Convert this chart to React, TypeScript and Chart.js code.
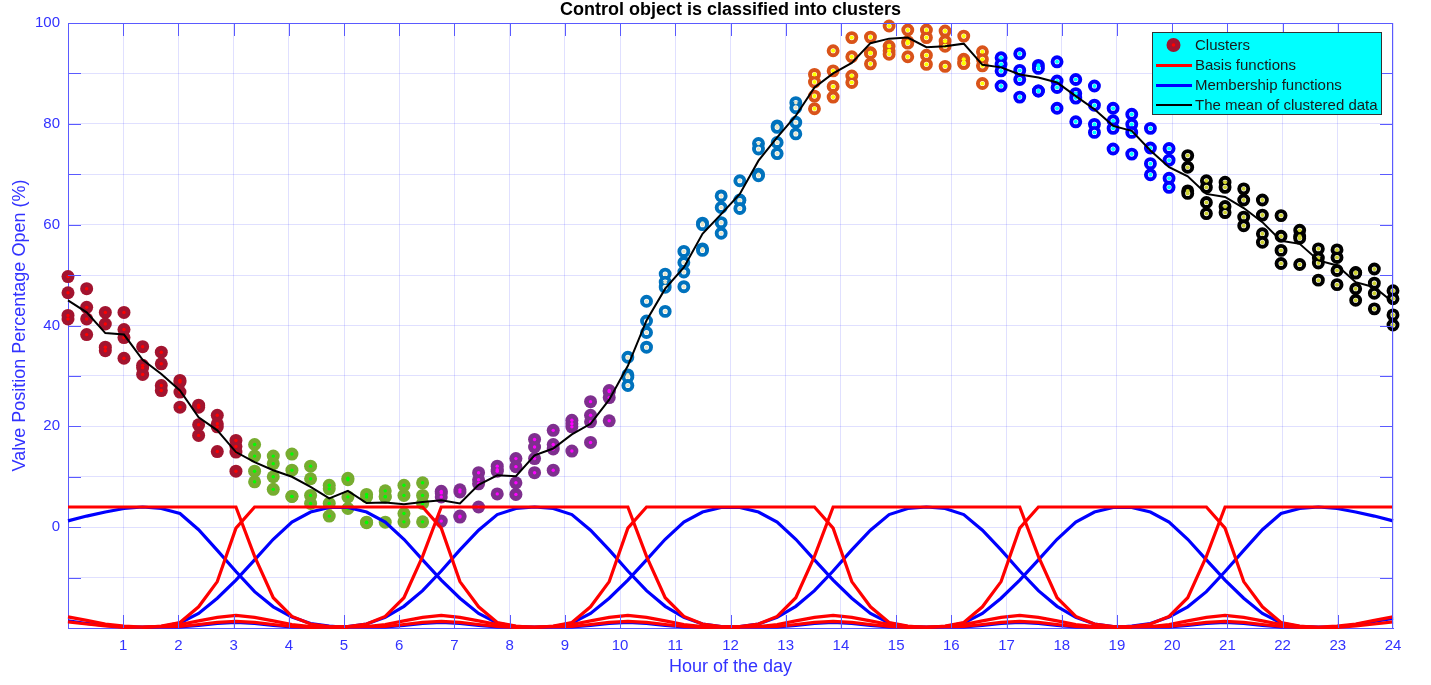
import React, { useEffect, useRef } from 'react';
import { Chart, registerables } from 'chart.js';

Chart.register(...registerables);

// ---------- data ----------
// 72 sample instants over the day (hours)
const hours = [
  0, 0.338, 0.676, 1.014, 1.352, 1.690, 2.028, 2.366, 2.704, 3.042,
  3.380, 3.718, 4.056, 4.394, 4.732, 5.070, 5.408, 5.746, 6.085, 6.423,
  6.761, 7.099, 7.437, 7.775, 8.113, 8.451, 8.789, 9.127, 9.465, 9.803,
  10.141, 10.479, 10.817, 11.155, 11.493, 11.831, 12.169, 12.507, 12.845, 13.183,
  13.521, 13.859, 14.197, 14.535, 14.873, 15.211, 15.549, 15.887, 16.225, 16.563,
  16.901, 17.239, 17.577, 17.915, 18.254, 18.592, 18.930, 19.268, 19.606, 19.944,
  20.282, 20.620, 20.958, 21.296, 21.634, 21.972, 22.310, 22.648, 22.986, 23.324,
  23.662, 24,
];

const xTickLabels = ['', '1', '2', '3', '4', '5', '6', '7', '8', '9', '10', '11', '12', '13', '14', '15', '16', '17', '18', '19', '20', '21', '22', '23', '24'];
const yLabelValues = [0, 20, 40, 60, 80, 100];

// cluster samples: each row = one sample instant (starting at the given index)
const cluster1Start = 0;
const cluster1 = [
  [49.7, 46.5, 42.0, 41.3], [47.3, 43.6, 41.3, 38.2], [42.6, 40.3, 35.7, 35.0], [42.6, 39.2, 37.6, 33.5],
  [35.8, 32.1, 31.6, 30.3], [34.7, 32.4, 28.1, 27.1], [29.1, 28.8, 26.8, 23.8], [24.2, 23.8, 20.3, 18.2],
  [22.2, 20.5, 19.9, 15.0], [17.2, 16.0, 14.9, 11.1],
];
const cluster2Start = 10;
const cluster2 = [
  [16.4, 14.1, 11.1, 9.0], [14.1, 12.6, 10.0, 7.5], [14.5, 11.3, 6.1, 6.1], [12.1, 9.6, 6.3, 4.7],
  [8.3, 7.6, 4.7, 2.2], [9.7, 9.4, 6.0, 3.7], [6.5, 6.0, 1.0, 0.9], [7.2, 6.1, 6.0, 1.0],
  [8.3, 6.3, 2.7, 1.05], [8.8, 6.3, 4.7, 1.05],
];
const cluster3Start = 20;
const cluster3 = [
  [7.1, 6.8, 6.0, 1.2], [7.4, 7.0, 2.2, 2.0], [10.8, 9.4, 8.6, 4.0], [12.1, 11.4, 11.1, 6.6],
  [13.6, 12.0, 8.8, 6.5], [17.4, 15.9, 13.6, 10.8], [19.2, 16.4, 15.5, 11.3], [21.2, 20.5, 19.9, 15.1],
  [24.9, 22.2, 20.9, 16.8], [27.1, 26.9, 25.7, 21.1],
];
const cluster4Start = 30;
const cluster4 = [
  [33.7, 30.2, 29.8, 28.1], [44.8, 40.9, 38.6, 35.7], [50.2, 48.6, 47.6, 42.8], [54.7, 52.5, 50.6, 47.7],
  [60.3, 60.0, 55.2, 54.9], [65.7, 63.4, 60.4, 58.3], [68.7, 64.9, 64.8, 63.2], [76.1, 75.0, 70.0, 69.7],
  [79.6, 79.3, 76.3, 74.1], [84.2, 83.2, 80.3, 78.0],
];
const cluster5Start = 40;
const cluster5 = [
  [89.8, 88.3, 85.5, 83.0], [94.5, 90.5, 87.4, 85.3], [97.1, 93.3, 89.5, 88.2], [97.2, 94.1, 94.0, 91.9],
  [99.4, 95.4, 94.5, 93.8], [98.6, 96.3, 96.0, 93.3], [98.6, 97.1, 93.6, 91.8], [98.4, 96.4, 95.4, 91.4],
  [97.4, 92.8, 92.0, 92.0], [94.3, 92.8, 91.5, 88.0],
];
const cluster6Start = 50;
const cluster6 = [
  [93.1, 91.8, 90.5, 87.5], [93.9, 90.6, 88.8, 85.3], [91.6, 91.0, 86.5, 86.5], [92.3, 88.5, 87.2, 83.1],
  [88.8, 86.0, 85.1, 80.4], [87.5, 83.7, 79.9, 78.3], [83.1, 80.6, 79.1, 75.0], [81.9, 79.9, 78.3, 74.0],
  [79.1, 75.2, 72.1, 69.9], [75.1, 72.8, 69.2, 67.4],
];
const cluster7Start = 60;
const cluster7 = [
  [73.7, 71.4, 66.7, 66.2], [68.7, 67.4, 64.4, 62.2], [68.4, 67.4, 63.6, 62.4], [67.1, 64.9, 61.5, 59.8],
  [64.9, 61.9, 58.2, 56.5], [61.8, 57.7, 54.9, 52.3], [58.9, 57.7, 57.3, 52.1], [55.2, 53.4, 52.4, 49.0],
  [55.0, 53.5, 50.9, 48.1], [50.5, 50.4, 47.3, 45.0], [51.2, 48.4, 46.4, 43.3], [46.9, 45.3, 42.1, 40.1],
];

// mean of clustered data, one value per sample instant
const meanValues = [
  45.0, 42.6, 38.5, 38.2, 33.2, 30.4, 27.1, 21.8, 19.2, 14.9,
  12.9, 11.3, 10.0, 8.0, 5.7, 7.2, 4.8, 4.9, 4.55, 5.0,
  5.35, 4.7, 8.4, 10.3, 10.1, 14.25, 15.6, 18.4, 20.5, 25.3,
  32.0, 41.0, 47.3, 51.5, 58.2, 62.1, 66.1, 72.7, 77.3, 81.6,
  87.2, 90.0, 92.1, 96.0, 96.9, 97.1, 95.2, 95.4, 95.9, 91.7,
  91.2, 89.8, 89.2, 88.2, 85.5, 82.9, 79.6, 78.6, 74.7, 71.4,
  69.6, 66.1, 65.5, 63.3, 60.5, 56.8, 56.2, 52.9, 51.9, 48.6,
  47.6, 44.6,
];

// basis functions: [sample index, value] vertices
const basis1 = [[0, 4], [9, 4], [10, -5.8], [11, -14.0], [12, -17.7], [13, -19.2], [14, -19.7], [15, -19.9]];
const basis2 = [[4, -19.9], [5, -19.6], [6, -18.9], [7, -15.8], [8, -10.8], [9, -0.2], [10, 4], [19, 4], [20, -0.2], [21, -10.8], [22, -15.8], [23, -18.9], [24, -19.6], [25, -19.9]];
const basis3 = [[14, -19.9], [15, -19.7], [16, -19.2], [17, -17.7], [18, -14.0], [19, -5.8], [20, 4], [30, 4], [31, -5.8], [32, -14.0], [33, -17.7], [34, -19.2], [35, -19.7], [36, -19.9]];
const basis4 = [[25, -19.9], [26, -19.6], [27, -18.9], [28, -15.8], [29, -10.8], [30, -0.2], [31, 4], [40, 4], [41, -0.2], [42, -10.8], [43, -15.8], [44, -18.9], [45, -19.6], [46, -19.9]];
const basis5 = [[35, -19.9], [36, -19.7], [37, -19.2], [38, -17.7], [39, -14.0], [40, -5.8], [41, 4], [51, 4], [52, -5.8], [53, -14.0], [54, -17.7], [55, -19.2], [56, -19.7], [57, -19.9]];
const basis6 = [[46, -19.9], [47, -19.6], [48, -18.9], [49, -15.8], [50, -10.8], [51, -0.2], [52, 4], [61, 4], [62, -0.2], [63, -10.8], [64, -15.8], [65, -18.9], [66, -19.6], [67, -19.9]];
const basis7 = [[56, -19.9], [57, -19.7], [58, -19.2], [59, -17.7], [60, -14.0], [61, -5.8], [62, 4], [71, 4]];
const basisLow1 = [
  [0, -17.8], [1, -18.5], [2, -19.2], [3, -19.6], [4, -19.8], [5, -19.7], [6, -19.3], [7, -18.6], [8, -17.9], [9, -17.5],
  [10, -17.9], [11, -18.6], [12, -19.3], [13, -19.7], [14, -19.8], [16, -19.7], [17, -19.3], [18, -18.6], [19, -17.9], [20, -17.5],
  [21, -17.9], [22, -18.6], [23, -19.3], [24, -19.7], [25, -19.8], [26, -19.7], [27, -19.3], [28, -18.6], [29, -17.9], [30, -17.5],
  [31, -17.9], [32, -18.6], [33, -19.3], [34, -19.7], [35, -19.8], [37, -19.7], [38, -19.3], [39, -18.6], [40, -17.9], [41, -17.5],
  [42, -17.9], [43, -18.6], [44, -19.3], [45, -19.7], [46, -19.8], [47, -19.7], [48, -19.3], [49, -18.6], [50, -17.9], [51, -17.5],
  [52, -17.9], [53, -18.6], [54, -19.3], [55, -19.7], [56, -19.8], [58, -19.7], [59, -19.3], [60, -18.6], [61, -17.9], [62, -17.5],
  [63, -17.9], [64, -18.6], [65, -19.3], [66, -19.7], [67, -19.8], [68, -19.6], [69, -19.2], [70, -18.5], [71, -17.8],
];
const basisLow2 = [
  [0, -18.8], [1, -19.2], [2, -19.6], [3, -19.9], [6, -19.7], [7, -19.3], [8, -18.9], [9, -18.7], [10, -18.9], [11, -19.3],
  [12, -19.7], [13, -19.9], [17, -19.7], [18, -19.3], [19, -18.9], [20, -18.7], [21, -18.9], [22, -19.3], [23, -19.7], [24, -19.9],
  [27, -19.7], [28, -19.3], [29, -18.9], [30, -18.7], [31, -18.9], [32, -19.3], [33, -19.7], [34, -19.9], [38, -19.7], [39, -19.3],
  [40, -18.9], [41, -18.7], [42, -18.9], [43, -19.3], [44, -19.7], [45, -19.9], [48, -19.7], [49, -19.3], [50, -18.9], [51, -18.7],
  [52, -18.9], [53, -19.3], [54, -19.7], [55, -19.9], [59, -19.7], [60, -19.3], [61, -18.9], [62, -18.7], [63, -18.9], [64, -19.3],
  [65, -19.7], [66, -19.9], [68, -19.9], [69, -19.6], [70, -19.2], [71, -18.8],
];

// membership functions: [sample index, value] vertices
const member1 = [[0, 1.25], [1, 2.2], [2, 3.0], [3, 3.7], [4, 4.0], [5, 3.7], [6, 2.7], [7, -0.5], [8, -4.6], [9, -8.8], [10, -12.8], [11, -15.8], [12, -17.8], [13, -19.1], [14, -19.6], [15, -19.9]];
const member2 = [[4, -19.9], [5, -19.7], [6, -19.0], [7, -17.1], [8, -14.1], [9, -10.5], [10, -6.5], [11, -2.4], [12, 1.0], [13, 3.0], [14, 3.9], [15, 3.9], [16, 3.0], [17, 1.0], [18, -2.4], [19, -6.5], [20, -10.5], [21, -14.1], [22, -17.1], [23, -19.0], [24, -19.7], [25, -19.9]];
const member3 = [[14, -19.9], [15, -19.7], [16, -19.2], [17, -17.9], [18, -15.7], [19, -12.6], [20, -8.7], [21, -4.5], [22, -0.6], [23, 2.5], [24, 3.7], [25, 4.0], [26, 3.7], [27, 2.5], [28, -0.6], [29, -4.5], [30, -8.7], [31, -12.6], [32, -15.7], [33, -17.9], [34, -19.2], [35, -19.7], [36, -19.9]];
const member4 = [[25, -19.9], [26, -19.7], [27, -19.0], [28, -17.1], [29, -14.1], [30, -10.5], [31, -6.5], [32, -2.4], [33, 1.0], [34, 3.0], [35, 3.9], [36, 3.9], [37, 3.0], [38, 1.0], [39, -2.4], [40, -6.5], [41, -10.5], [42, -14.1], [43, -17.1], [44, -19.0], [45, -19.7], [46, -19.9]];
const member5 = [[35, -19.9], [36, -19.7], [37, -19.2], [38, -17.9], [39, -15.7], [40, -12.6], [41, -8.7], [42, -4.5], [43, -0.6], [44, 2.5], [45, 3.7], [46, 4.0], [47, 3.7], [48, 2.5], [49, -0.6], [50, -4.5], [51, -8.7], [52, -12.6], [53, -15.7], [54, -17.9], [55, -19.2], [56, -19.7], [57, -19.9]];
const member6 = [[46, -19.9], [47, -19.7], [48, -19.0], [49, -17.1], [50, -14.1], [51, -10.5], [52, -6.5], [53, -2.4], [54, 1.0], [55, 3.0], [56, 3.9], [57, 3.9], [58, 3.0], [59, 1.0], [60, -2.4], [61, -6.5], [62, -10.5], [63, -14.1], [64, -17.1], [65, -19.0], [66, -19.7], [67, -19.9]];
const member7 = [[56, -19.9], [57, -19.6], [58, -19.1], [59, -17.8], [60, -15.8], [61, -12.8], [62, -8.8], [63, -4.6], [64, -0.5], [65, 2.7], [66, 3.7], [67, 4.0], [68, 3.7], [69, 3.0], [70, 2.2], [71, 1.25]];
const memberLow = [
  [0, -18.6], [1, -19.1], [2, -19.5], [3, -19.8], [6, -19.8], [7, -19.5], [8, -19.1], [9, -18.9], [10, -19.1], [11, -19.5],
  [12, -19.8], [17, -19.8], [18, -19.5], [19, -19.1], [20, -18.9], [21, -19.1], [22, -19.5], [23, -19.8], [27, -19.8], [28, -19.5],
  [29, -19.1], [30, -18.9], [31, -19.1], [32, -19.5], [33, -19.8], [38, -19.8], [39, -19.5], [40, -19.1], [41, -18.9], [42, -19.1],
  [43, -19.5], [44, -19.8], [48, -19.8], [49, -19.5], [50, -19.1], [51, -18.9], [52, -19.1], [53, -19.5], [54, -19.8], [59, -19.8],
  [60, -19.5], [61, -19.1], [62, -18.9], [63, -19.1], [64, -19.5], [65, -19.8], [68, -19.8], [69, -19.3], [70, -18.7], [71, -18.1],
];

// ---------- styling ----------
const FONT = "'Liberation Sans', Arial, Helvetica, sans-serif";
const AXIS_BLUE = '#5a5aff';
const TEXT_BLUE = '#3232ff';
const GRID = 'rgba(0,0,255,0.12)';

type Style = { filled: boolean; main: string; dot: string; dotR: number };
const clusterStyles: Style[] = [
  { filled: true, main: '#A2142F', dot: '#FF0000', dotR: 1.7 },
  { filled: true, main: '#77AC30', dot: '#00FF00', dotR: 1.7 },
  { filled: true, main: '#7E2F8E', dot: '#FF00FF', dotR: 1.7 },
  { filled: false, main: '#0072BD', dot: '#E8E6C8', dotR: 1.8 },
  { filled: false, main: '#D95319', dot: '#FFFF00', dotR: 2.1 },
  { filled: false, main: '#0000FF', dot: '#00FFFF', dotR: 2.0 },
  { filled: false, main: '#000000', dot: '#CDD22E', dotR: 2.0 },
];

function toPoints(start: number, rows: number[][]) {
  const pts: { x: number; y: number }[] = [];
  rows.forEach((vals, i) => vals.forEach((v) => pts.push({ x: hours[start + i], y: v })));
  return pts;
}
function toLine(verts: number[][]) {
  return verts.map(([k, v]) => ({ x: hours[k], y: v }));
}

function buildDatasets() {
  const ds: any[] = [];
  ds.push({
    label: 'mean', data: meanValues.map((v, k) => ({ x: hours[k], y: v })), showLine: true,
    borderColor: '#000000', borderWidth: 2, pointRadius: 0, order: 0, clip: false,
  });
  [basis1, basis2, basis3, basis4, basis5, basis6, basis7, basisLow1, basisLow2].forEach((b, i) => {
    ds.push({ label: 'basis' + i, data: toLine(b), showLine: true, borderColor: '#FF0000', borderWidth: 3.2, pointRadius: 0, order: 1, clip: false });
  });
  [member1, member2, member3, member4, member5, member6, member7, memberLow].forEach((m, i) => {
    ds.push({ label: 'member' + i, data: toLine(m), showLine: true, borderColor: '#0000FF', borderWidth: 3.2, pointRadius: 0, order: 2, clip: false });
  });
  const clusters: [number, number[][]][] = [
    [cluster1Start, cluster1], [cluster2Start, cluster2], [cluster3Start, cluster3], [cluster4Start, cluster4],
    [cluster5Start, cluster5], [cluster6Start, cluster6], [cluster7Start, cluster7],
  ];
  clusters.forEach(([s, rows], i) => {
    const st = clusterStyles[i];
    const pts = toPoints(s, rows);
    ds.push({
      label: 'cl' + i, data: pts, showLine: false, order: 4, clip: false,
      pointRadius: st.filled ? 6.5 : 4.5,
      pointBorderWidth: st.filled ? 0 : 3.9,
      pointBackgroundColor: st.filled ? st.main : '#FFFFFF',
      pointBorderColor: st.main,
    });
    ds.push({
      label: 'dot' + i, data: pts, showLine: false, order: 3, clip: false,
      pointRadius: st.dotR, pointBorderWidth: 0,
      pointBackgroundColor: st.dot, pointBorderColor: st.dot,
    });
  });
  return ds;
}

const decorPlugin = {
  id: 'decor',
  afterDraw(chart: any) {
    const { ctx, chartArea: a, scales } = chart;
    const x = scales.x;
    const y = scales.y;
    ctx.save();
    // box (top and right sides)
    ctx.strokeStyle = AXIS_BLUE;
    ctx.lineWidth = 1;
    ctx.beginPath();
    ctx.moveTo(a.left, a.top + 0.5);
    ctx.lineTo(a.right, a.top + 0.5);
    ctx.moveTo(a.right - 0.5, a.top);
    ctx.lineTo(a.right - 0.5, a.bottom);
    ctx.stroke();
    // inward tick marks
    const TL = 13;
    ctx.beginPath();
    x.ticks.forEach((t: any) => {
      if (t.value <= x.min || t.value >= x.max) return;
      const px = Math.round(x.getPixelForValue(t.value)) + 0.5;
      ctx.moveTo(px, a.bottom);
      ctx.lineTo(px, a.bottom - TL);
      ctx.moveTo(px, a.top);
      ctx.lineTo(px, a.top + TL);
    });
    y.ticks.forEach((t: any) => {
      if (t.value <= y.min || t.value >= y.max) return;
      const py = Math.round(y.getPixelForValue(t.value)) + 0.5;
      ctx.moveTo(a.left, py);
      ctx.lineTo(a.left + TL, py);
      ctx.moveTo(a.right, py);
      ctx.lineTo(a.right - TL, py);
    });
    ctx.stroke();

    // title
    ctx.fillStyle = '#000000';
    ctx.font = `bold 18px ${FONT}`;
    ctx.textAlign = 'center';
    ctx.textBaseline = 'middle';
    ctx.fillText('Control object is classified into clusters', (a.left + a.right) / 2, 10);

    // legend
    const lx = 1152, ly = 32, lw = 230, lh = 83;
    ctx.fillStyle = '#00FFFF';
    ctx.fillRect(lx, ly, lw, lh);
    ctx.strokeStyle = '#333333';
    ctx.lineWidth = 1;
    ctx.strokeRect(lx + 0.5, ly + 0.5, lw - 1, lh - 1);
    const rows = [45, 65.5, 85.5, 105];
    // marker
    ctx.fillStyle = clusterStyles[0].main;
    ctx.beginPath();
    ctx.arc(1173.5, rows[0], 7, 0, Math.PI * 2);
    ctx.fill();
    ctx.fillStyle = clusterStyles[0].dot;
    ctx.beginPath();
    ctx.arc(1173.5, rows[0], 1.8, 0, Math.PI * 2);
    ctx.fill();
    const lines: [string, number][] = [['#FF0000', 3], ['#0000FF', 3], ['#000000', 2]];
    lines.forEach(([c, w], i) => {
      ctx.strokeStyle = c;
      ctx.lineWidth = w;
      ctx.beginPath();
      ctx.moveTo(1156, rows[i + 1]);
      ctx.lineTo(1192, rows[i + 1]);
      ctx.stroke();
    });
    ctx.fillStyle = '#1a1a1a';
    ctx.font = `15px ${FONT}`;
    ctx.textAlign = 'left';
    ctx.textBaseline = 'middle';
    ['Clusters', 'Basis functions', 'Membership functions', 'The mean of clustered data'].forEach((t, i) => {
      ctx.fillText(t, 1195, rows[i] + 0.5);
    });
    ctx.restore();
  },
};

export default function App() {
  const ref = useRef<HTMLCanvasElement | null>(null);
  useEffect(() => {
    if (!ref.current) return;
    Chart.defaults.font.family = FONT;
    const chart = new Chart(ref.current, {
      type: 'scatter',
      data: { datasets: buildDatasets() },
      options: {
        responsive: false,
        animation: false,
        events: [],
        layout: { padding: { left: 0, right: 38, top: 23, bottom: 0 } },
        plugins: { legend: { display: false }, title: { display: false }, tooltip: { enabled: false } },
        scales: {
          x: {
            type: 'linear', min: 0, max: 24,
            afterFit: (s: any) => { s.height = 57; },
            ticks: {
              stepSize: 1, autoSkip: false, maxRotation: 0, color: TEXT_BLUE, padding: 9,
              font: { size: 15, family: FONT },
              callback: (v: any) => xTickLabels[Math.round(v)] ?? '',
            },
            grid: { color: GRID, drawTicks: false, lineWidth: 1 },
            border: { display: true, color: AXIS_BLUE, width: 1 },
            title: { display: true, text: 'Hour of the day', color: TEXT_BLUE, font: { size: 18, family: FONT }, padding: { top: 0, bottom: 7 } },
          },
          y: {
            type: 'linear', min: -20, max: 100,
            afterFit: (s: any) => { s.width = 68; },
            ticks: {
              stepSize: 10, autoSkip: false, color: TEXT_BLUE, padding: 8,
              font: { size: 15, family: FONT },
              callback: (v: any) => (yLabelValues.includes(Number(v)) ? String(v) : ''),
            },
            grid: { color: GRID, drawTicks: false, lineWidth: 1 },
            border: { display: true, color: AXIS_BLUE, width: 1 },
            title: { display: true, text: 'Valve Position Percentage Open (%)', color: TEXT_BLUE, font: { size: 18, family: FONT }, padding: { top: 9, bottom: 0 } },
          },
        },
      },
      plugins: [decorPlugin],
    } as any);
    return () => chart.destroy();
  }, []);
  return (
    <div style={{ position: 'fixed', left: 0, top: 0, width: 1431, height: 685, background: '#ffffff' }}>
      <canvas ref={ref} width={1431} height={685} style={{ display: 'block' }} />
    </div>
  );
}
